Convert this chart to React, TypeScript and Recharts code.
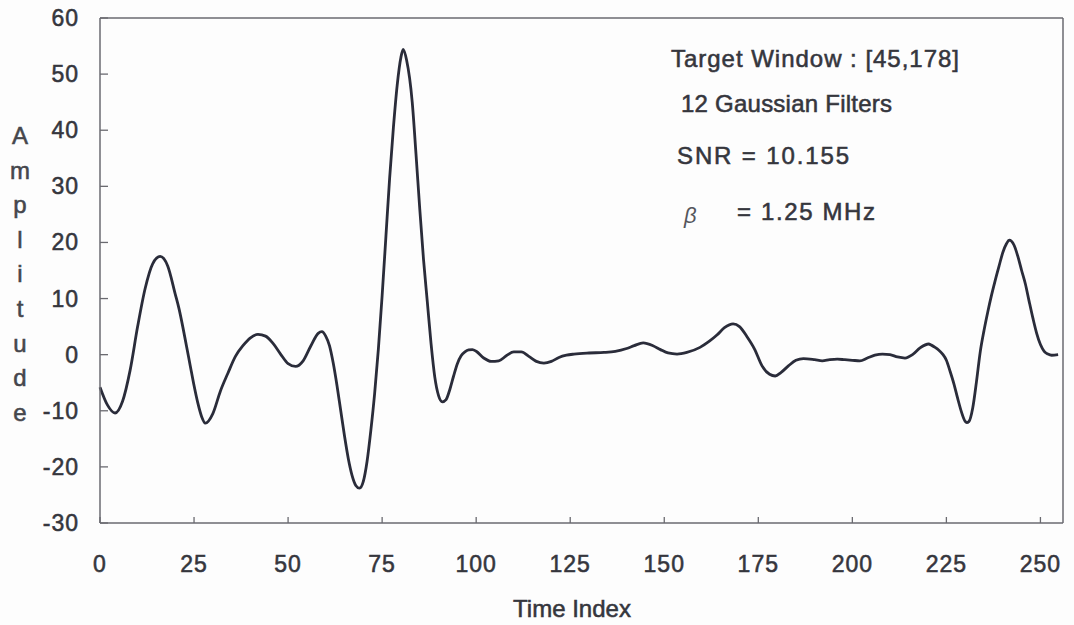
import { LineChart, Line, XAxis, YAxis, ReferenceLine } from 'recharts'

const timeIndex = [
    0, 2, 4, 6, 8, 10, 12, 14, 16, 18, 20, 21, 22, 23, 24, 25, 26, 27, 28, 30,
    32, 34, 36, 38, 40, 42, 44, 46, 48, 50, 52, 54, 56, 58, 59, 60, 61, 62, 63, 64,
    65, 66, 67, 68, 69, 70, 71, 72, 73, 74, 75, 76, 77, 78, 79, 80, 80.6, 81.5, 83, 84,
    85, 86, 87, 88, 89, 90, 91, 92, 93, 94, 95, 96, 97, 98, 99, 100, 102, 104, 106, 108,
    110, 112, 114, 116, 118, 120, 122, 124, 126, 130, 134, 137, 140, 142, 144.4, 147, 149, 151, 153.4, 156,
    159.5, 162, 164, 166, 168.3, 170, 172, 174, 176, 178, 179.5, 181, 183, 185, 187, 190, 192, 194, 196, 198,
    200, 202, 204, 206, 208, 210, 212, 214, 216, 218, 220.3, 221, 222, 223, 224, 225, 226, 227, 228, 229,
    230, 230.4, 231, 232, 233, 234, 235, 236, 237, 238, 239, 240, 241, 241.7, 243, 244, 245, 246, 247, 248,
    249, 250, 251, 252, 253, 254.7
]

const amplitude = [
    -5.8, -9.0, -10.4, -8.3, -2.8, 5.0, 11.8, 16.2, 17.5, 15.8, 10.8, 8.2, 5.0, 1.5, -2.0, -5.5, -8.6, -11.0, -12.2, -10.5,
    -6.5, -3.3, -0.3, 1.6, 3.0, 3.6, 3.3, 2.0, 0.1, -1.6, -2.1, -1.1, 1.5, 3.8, 4.1, 3.3, 1.6, -1.5, -5.5, -10.0,
    -14.5, -18.5, -21.5, -23.3, -23.8, -22.6, -19.0, -13.5, -7.0, 1.0, 10.5, 21.0, 31.5, 40.5, 48.0, 53.0, 54.4, 52.5, 45.0, 35.8,
    26.0, 17.0, 9.5, 2.0, -4.0, -7.3, -8.4, -8.0, -6.2, -3.8, -1.6, -0.2, 0.5, 0.85, 0.9, 0.6, -0.6, -1.2, -1.1, -0.2,
    0.5, 0.5, -0.3, -1.2, -1.5, -1.2, -0.5, -0.1, 0.1, 0.3, 0.4, 0.6, 1.1, 1.6, 2.1, 1.6, 0.9, 0.3, 0.1, 0.4,
    1.3, 2.4, 3.5, 4.8, 5.5, 5.0, 3.2, 1.0, -2.0, -3.5, -3.8, -3.2, -2.0, -1.0, -0.7, -0.9, -1.1, -0.9, -0.8, -0.9,
    -1.0, -1.1, -0.6, -0.1, 0.1, 0.0, -0.4, -0.6, 0.0, 1.2, 1.9, 1.7, 1.3, 0.8, 0.1, -1.0, -3.0, -5.2, -7.8, -10.2,
    -11.9, -12.1, -11.9, -9.5, -4.8, 0.5, 4.3, 7.6, 10.6, 13.3, 15.8, 18.2, 19.8, 20.4, 19.5, 17.5, 15.0, 12.6, 9.5, 6.5,
    3.8, 1.8, 0.6, 0.1, -0.1, 0.0
]

const xTicks = [0, 25, 50, 75, 100, 125, 150, 175, 200, 225, 250]
const yTicks = [-30, -20, -10, 0, 10, 20, 30, 40, 50, 60]
const yLabelLetters = ['A', 'm', 'p', 'l', 'i', 't', 'u', 'd', 'e']

const data = timeIndex.map((t, i) => ({ t, amp: amplitude[i] }))

const axisColor = '#6a6a70'
const textColor = '#35363d'
const font = '"Liberation Sans", Arial, sans-serif'

// a thin outline in the fill colour makes the text a bit heavier, like the scan
const heavy = { stroke: textColor, strokeWidth: 0.55, paintOrder: 'stroke' as const }

const XTick = (props: any) => {
    const { x, y, payload } = props
    return (
        <g>
            <line x1={x} x2={x} y1={y} y2={y - 6} stroke={axisColor} strokeWidth={1.3} />
            <text x={x} y={y + 49} textAnchor="middle" fontSize={23} fill={textColor}
                fontFamily={font} style={{ letterSpacing: 1, ...heavy }}>
                {payload.value}
            </text>
        </g>
    )
}

const YTick = (props: any) => {
    const { x, y, payload } = props
    return (
        <g>
            <line x1={x} x2={x + 8} y1={y} y2={y} stroke={axisColor} strokeWidth={1.3} />
            <text x={x - 21} y={y + 8} textAnchor="end" fontSize={23} fill={textColor}
                fontFamily={font} style={{ letterSpacing: 1, ...heavy }}>
                {payload.value}
            </text>
        </g>
    )
}

export default function App() {
    return (
        <div style={{ position: 'absolute', left: 0, top: 0, width: 1074, height: 625, background: '#fdfdfd' }}>
            <LineChart width={1074} height={625} data={data} margin={{ top: 18, right: 11, left: 0, bottom: 0 }}>
                <XAxis dataKey="t" type="number" domain={[0, 256]} ticks={xTicks} height={102}
                    stroke={axisColor} strokeWidth={1.5} tickLine={false} tickSize={0} tickMargin={0} tick={XTick} interval={0} />
                <YAxis type="number" domain={[-30, 60]} ticks={yTicks} width={100}
                    stroke={axisColor} strokeWidth={1.5} tickLine={false} tickSize={0} tickMargin={0} tick={YTick} interval={0} />
                <ReferenceLine y={60} stroke={axisColor} strokeWidth={1.5} />
                <ReferenceLine x={256} stroke={axisColor} strokeWidth={1.5} />
                <Line type="monotone" dataKey="amp" stroke="#2a2c3a" strokeWidth={2.8} dot={false} isAnimationActive={false} />
            </LineChart>
            <svg width={1074} height={625} style={{ position: 'absolute', left: 0, top: 0, pointerEvents: 'none' }}
                fontFamily={font} fill={textColor}>
                <g style={heavy}>
                    <text x={671} y={67} fontSize={24} textLength={288} lengthAdjust="spacing">Target Window : [45,178]</text>
                    <text x={681} y={112} fontSize={24} textLength={211} lengthAdjust="spacing">12 Gaussian Filters</text>
                    <text x={677} y={164} fontSize={24} textLength={172} lengthAdjust="spacing">SNR = 10.155</text>
                    <text x={737} y={220} fontSize={24} textLength={138} lengthAdjust="spacing">= 1.25 MHz</text>
                    <text x={572} y={617} fontSize={24} textAnchor="middle">Time Index</text>
                </g>
                <text x={684} y={223} fontSize={22} fontStyle="italic" fill="#55565c">β</text>
                {yLabelLetters.map((ch, i) => (
                    <text key={i} x={20} y={144 + i * 34.6} fontSize={24} textAnchor="middle" fill="#45464c"
                        style={{ ...heavy, stroke: '#45464c' }}>{ch}</text>
                ))}
            </svg>
        </div>
    )
}
